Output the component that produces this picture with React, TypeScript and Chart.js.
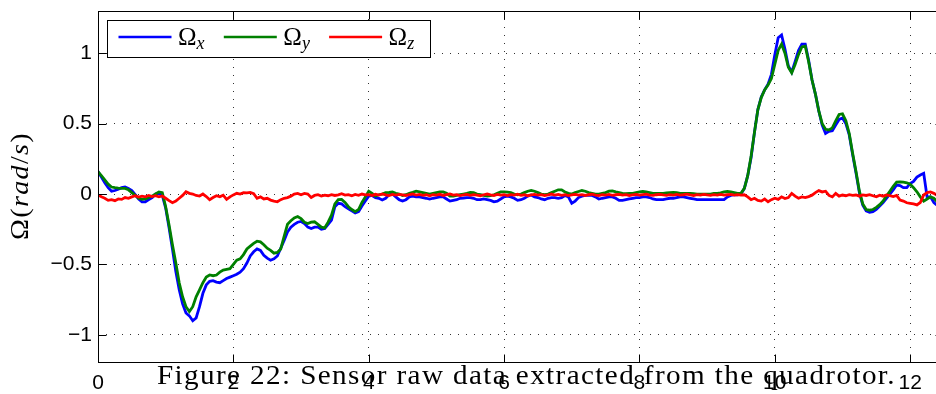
import { useEffect, useRef } from 'react';
import { Chart, registerables } from 'chart.js';

Chart.register(...registerables);

// Gyro samples, one every 50 ms (rad/s)
const SAMPLE_STEP = 0.05;

const OMEGA_X = [
  0.16, 0.12, 0.08, 0.045, 0.02, 0.025, 0.035, 0.045, 0.05, 0.04,
  0.025, -0.005, -0.035, -0.055, -0.055, -0.04, -0.025, 0.0, 0.005, -0.01,
  -0.1, -0.24, -0.39, -0.55, -0.68, -0.78, -0.845, -0.865, -0.9, -0.88,
  -0.8, -0.705, -0.645, -0.62, -0.615, -0.625, -0.63, -0.615, -0.6, -0.59,
  -0.58, -0.57, -0.555, -0.53, -0.49, -0.44, -0.41, -0.39, -0.4, -0.435,
  -0.455, -0.47, -0.46, -0.44, -0.385, -0.33, -0.27, -0.235, -0.215, -0.2,
  -0.195, -0.21, -0.235, -0.245, -0.235, -0.235, -0.25, -0.245, -0.215, -0.185,
  -0.09, -0.066, -0.07, -0.09, -0.105, -0.12, -0.135, -0.125, -0.085, -0.05,
  -0.015, -0.01, -0.025, -0.03, -0.042, -0.03, -0.005, 0.0, -0.02, -0.04,
  -0.05, -0.04, -0.02, -0.015, -0.02, -0.02, -0.025, -0.03, -0.036, -0.03,
  -0.025, -0.02, -0.02, -0.035, -0.05, -0.045, -0.04, -0.03, -0.028, -0.025,
  -0.025, -0.03, -0.04, -0.04, -0.035, -0.04, -0.045, -0.055, -0.05, -0.035,
  -0.02, -0.015, -0.02, -0.03, -0.045, -0.04, -0.03, -0.015, -0.007, -0.02,
  -0.025, -0.035, -0.04, -0.03, -0.025, -0.025, -0.03, -0.025, -0.01, -0.02,
  -0.065, -0.05, -0.025, -0.015, -0.01, -0.01, -0.01, -0.02, -0.036, -0.03,
  -0.025, -0.02, -0.02, -0.03, -0.045, -0.045, -0.04, -0.035, -0.03, -0.025,
  -0.025, -0.02, -0.02, -0.025, -0.035, -0.04, -0.04, -0.04, -0.035, -0.03,
  -0.03, -0.025, -0.02, -0.02, -0.025, -0.03, -0.035, -0.04, -0.04, -0.04,
  -0.04, -0.04, -0.04, -0.04, -0.04, -0.04, -0.02, -0.01, -0.005, -0.005,
  0.0, 0.04, 0.13, 0.26, 0.44, 0.6, 0.69, 0.74, 0.78, 0.85,
  0.99, 1.11, 1.13, 1.03, 0.91, 0.865, 0.94, 1.02, 1.065, 1.065,
  0.95, 0.81, 0.71, 0.59, 0.49, 0.43, 0.445, 0.45, 0.49, 0.53,
  0.54, 0.5, 0.42, 0.28, 0.15, 0.01, -0.08, -0.12, -0.13, -0.125,
  -0.11, -0.085, -0.06, -0.03, 0.0, 0.03, 0.064, 0.06, 0.045, 0.045,
  0.075, 0.09, 0.12, 0.135, 0.147, -0.02, -0.02, -0.06, -0.08, -0.07,
  -0.07,
];

const OMEGA_Y = [
  0.16, 0.13, 0.1, 0.07, 0.05, 0.045, 0.042, 0.04, 0.04, 0.03,
  0.01, -0.01, -0.03, -0.038, -0.035, -0.025, -0.015, 0.0, 0.015, 0.01,
  -0.09, -0.22, -0.36, -0.49, -0.63, -0.73, -0.8, -0.835, -0.8, -0.73,
  -0.68, -0.63, -0.59, -0.575, -0.58, -0.575, -0.555, -0.54, -0.535, -0.53,
  -0.5, -0.47, -0.46, -0.43, -0.39, -0.37, -0.35, -0.335, -0.34, -0.36,
  -0.385, -0.4, -0.42, -0.415, -0.39, -0.3, -0.215, -0.19, -0.17, -0.16,
  -0.175, -0.2, -0.21, -0.2, -0.197, -0.215, -0.235, -0.24, -0.2, -0.15,
  -0.07, -0.04, -0.038, -0.06, -0.09, -0.11, -0.125, -0.11, -0.06, -0.02,
  0.02, 0.005, -0.015, -0.005, 0.0, 0.01, 0.012, 0.015, 0.005, 0.0,
  -0.01, -0.005, 0.005, 0.012, 0.02, 0.015, 0.01, 0.005, 0.0, 0.005,
  0.01, 0.015, 0.015, 0.005, -0.015, -0.015, -0.01, -0.005, 0.0, 0.005,
  0.012, 0.01, 0.0, -0.005, -0.01, -0.015, -0.012, -0.005, 0.005, 0.015,
  0.016, 0.014, 0.01, 0.0, -0.005, 0.0, 0.01, 0.02, 0.026, 0.02,
  0.01, 0.0, -0.005, 0.0, 0.01, 0.02, 0.03, 0.03, 0.015, 0.005,
  0.0, 0.01, 0.018, 0.025, 0.02, 0.01, 0.005, 0.0, 0.0, 0.005,
  0.01, 0.02, 0.022, 0.015, 0.01, 0.005, 0.003, 0.005, 0.005, 0.01,
  0.015, 0.018, 0.015, 0.01, 0.005, 0.005, 0.005, 0.005, 0.008, 0.01,
  0.012, 0.01, 0.005, 0.005, 0.005, 0.005, 0.003, 0.0, 0.0, 0.0,
  0.0, 0.0, 0.005, 0.005, 0.008, 0.015, 0.018, 0.015, 0.01, 0.005,
  0.005, 0.04, 0.13, 0.27, 0.44, 0.6, 0.685, 0.74, 0.775, 0.82,
  0.92, 1.02, 1.065, 1.0, 0.9, 0.86, 0.92, 0.99, 1.045, 1.05,
  0.94, 0.81, 0.71, 0.59, 0.5, 0.46, 0.455, 0.47, 0.52, 0.565,
  0.57, 0.52, 0.43, 0.29, 0.16, 0.02, -0.07, -0.11, -0.115, -0.11,
  -0.095, -0.075, -0.05, -0.015, 0.02, 0.055, 0.085, 0.087, 0.085, 0.08,
  0.07, 0.045, 0.016, -0.02, -0.05, -0.035, -0.02, -0.03, -0.055, -0.08,
  -0.08,
];

const OMEGA_Z = [
  -0.007, -0.02, -0.03, -0.045, -0.04, -0.047, -0.035, -0.038, -0.025, -0.03,
  -0.02, -0.012, -0.022, -0.015, -0.02, -0.01, -0.018, -0.012, -0.02, -0.014,
  -0.03, -0.047, -0.062, -0.05, -0.03, -0.01, 0.016, 0.005, 0.0, -0.01,
  -0.014, 0.0, -0.018, -0.04, -0.025, -0.012, -0.02, -0.008, -0.038, -0.02,
  -0.006, 0.005, 0.0, 0.01, 0.008, 0.012, 0.002, -0.03, -0.02, -0.035,
  -0.03, -0.043, -0.05, -0.055, -0.04, -0.03, -0.025, -0.015, 0.0, 0.005,
  -0.005, 0.004, 0.0, -0.024, -0.01, -0.005, -0.014, -0.008, -0.012, -0.004,
  -0.01, -0.006, 0.002, -0.008, -0.004, -0.012, -0.003, -0.009, 0.0, -0.006,
  -0.004, -0.01, -0.002, -0.007, 0.001, -0.006, -0.011, -0.003, -0.008, -0.002,
  -0.006, -0.01, -0.004, 0.0, -0.008, -0.003, -0.009, -0.005, -0.012, -0.004,
  -0.007, -0.002, -0.01, -0.005, 0.0, -0.008, -0.004, -0.011, -0.006, -0.002,
  -0.009, -0.004, -0.007, -0.012, -0.005, 0.0, -0.006, -0.01, -0.003, -0.008,
  -0.005, -0.011, -0.004, -0.007, -0.001, -0.009, -0.005, -0.012, -0.006, -0.003,
  -0.008, -0.004, -0.01, -0.006, 0.0, -0.007, -0.003, -0.009, -0.005, -0.011,
  -0.006, -0.002, -0.008, -0.004, -0.01, -0.005, -0.001, -0.007, -0.011, -0.004,
  -0.007, -0.003, -0.009, -0.005, -0.002, -0.008, -0.004, -0.01, -0.006, -0.003,
  -0.008, -0.004, -0.001, -0.007, -0.01, -0.005, -0.002, -0.006, -0.009, -0.004,
  -0.007, -0.003, -0.008, -0.005, -0.001, -0.006, -0.01, -0.004, -0.007, -0.002,
  -0.006, -0.009, -0.004, -0.007, -0.002, -0.008, -0.005, -0.003, -0.007, -0.004,
  -0.008, -0.005, -0.02, -0.04, -0.03, -0.045, -0.05, -0.035, -0.055, -0.04,
  -0.03, -0.038, -0.02, -0.032, -0.025, 0.004, -0.015, -0.03, -0.02, -0.025,
  -0.018, -0.008, 0.01, 0.024, 0.015, 0.02, -0.01, -0.02, 0.005, -0.015,
  -0.007, -0.012, -0.005, -0.01, -0.007, -0.015, -0.006, -0.01, -0.004, -0.012,
  -0.02, -0.008, -0.015, -0.006, -0.012, -0.018, -0.01, -0.043, -0.05, -0.062,
  -0.066, -0.07, -0.077, -0.06, -0.007, 0.01, 0.015, 0.005, -0.01, -0.02,
  -0.015,
];

const X_RANGE = [0, 12.5];
const Y_RANGE = [-1.2, 1.3];
const X_TICKS = [0, 2, 4, 6, 8, 10, 12];
const X_TICK_LABELS = ['0', '2', '4', '6', '8', '10', '12'];
const Y_TICKS = [-1, -0.5, 0, 0.5, 1];
const Y_TICK_LABELS = ['\u22121', '\u22120.5', '0', '0.5', '1'];

const SERIES_SUBSCRIPTS = ['x', 'y', 'z'];
const SERIES_COLORS = ['#0000ff', '#008000', '#ff0000'];
const SERIES_VALUES = [OMEGA_X, OMEGA_Y, OMEGA_Z];

const CAPTION = 'Figure 22: Sensor raw data extracted from the quadrotor.';

const SERIF = '"Liberation Serif", serif';
const SANS = '"Liberation Sans", Arial, Helvetica, sans-serif';

const CANVAS_W = 944;
const CANVAS_H = 394;

type Run = { text: string; italic?: boolean; size: number; dy?: number };

function runFont(r: Run) {
  return `${r.italic ? 'italic ' : ''}${r.size}px ${SERIF}`;
}

function setSpacing(ctx: any, px: number) {
  if ('letterSpacing' in ctx) ctx.letterSpacing = `${px}px`;
}

function runsWidth(ctx: CanvasRenderingContext2D, runs: Run[]) {
  let w = 0;
  for (const r of runs) {
    ctx.font = runFont(r);
    w += ctx.measureText(r.text).width;
  }
  return w;
}

// Draws mixed upright/italic text starting at (0,0) of the current transform.
// When a length is given, the text is widened to it: partly by a mild
// horizontal stretch, the rest by letter spacing, so strokes stay thin.
function drawRuns(ctx: CanvasRenderingContext2D, runs: Run[], length?: number) {
  setSpacing(ctx, 0);
  const natural = runsWidth(ctx, runs);
  const chars = runs.reduce((n, r) => n + r.text.length, 0);
  let sx = 1;
  let ls = 0;
  if (length) {
    sx = Math.min(1.08, length / natural);
    const hasSpacing = 'letterSpacing' in (ctx as any);
    if (hasSpacing) {
      ls = (length / sx - natural) / chars;
    } else {
      sx = length / natural;
    }
  }
  ctx.save();
  ctx.scale(sx, 1);
  let cx = 0;
  for (const r of runs) {
    ctx.font = runFont(r);
    setSpacing(ctx, 0);
    const w = ctx.measureText(r.text).width;
    setSpacing(ctx, ls);
    ctx.fillText(r.text, cx, r.dy || 0);
    cx += w + ls * r.text.length;
  }
  ctx.restore();
  setSpacing(ctx, 0);
}

const decorations = {
  id: 'figureDecorations',
  afterDraw(chart: any) {
    const { ctx, chartArea: a, scales } = chart;
    ctx.save();

    // axes box
    ctx.strokeStyle = '#000';
    ctx.lineWidth = 1;
    const l = Math.round(a.left) + 0.5;
    const r = Math.round(a.right) - 0.5;
    const t = Math.round(a.top) + 0.5;
    const b = Math.round(a.bottom) - 0.5;
    ctx.strokeRect(l, t, r - l, b - t);

    // inward tick marks on all four sides
    const TL = 8;
    ctx.beginPath();
    for (const v of X_TICKS) {
      const px = Math.round(scales.x.getPixelForValue(v)) + 0.5;
      ctx.moveTo(px, b); ctx.lineTo(px, b - TL);
      ctx.moveTo(px, t); ctx.lineTo(px, t + TL);
    }
    for (const v of Y_TICKS) {
      const py = Math.round(scales.y.getPixelForValue(v)) + 0.5;
      ctx.moveTo(l, py); ctx.lineTo(l + TL, py);
      ctx.moveTo(r, py); ctx.lineTo(r - TL, py);
    }
    ctx.stroke();

    // legend
    const box = { x: 107.5, y: 20.5, w: 323, h: 37 };
    ctx.fillStyle = '#fff';
    ctx.fillRect(box.x, box.y, box.w, box.h);
    ctx.strokeStyle = '#000';
    ctx.lineWidth = 1;
    ctx.strokeRect(box.x, box.y, box.w, box.h);
    ctx.textBaseline = 'alphabetic';
    ctx.textAlign = 'left';
    SERIES_SUBSCRIPTS.forEach((sub, i) => {
      const x0 = 118.5 + i * 105.3;
      ctx.strokeStyle = SERIES_COLORS[i];
      ctx.lineWidth = 2.6;
      ctx.beginPath();
      ctx.moveTo(x0, 37);
      ctx.lineTo(x0 + 53, 37);
      ctx.stroke();
      ctx.fillStyle = '#000';
      ctx.save();
      ctx.translate(x0 + 59.5, 44.5);
      drawRuns(ctx, [
        { text: '\u03A9', size: 25 },
        { text: sub, italic: true, size: 18, dy: 4 },
      ]);
      ctx.restore();
    });

    // y-axis title
    ctx.fillStyle = '#000';
    const title: Run[] = [
      { text: '\u03A9', size: 26 },
      { text: '(', size: 26 },
      { text: 'rad', italic: true, size: 26 },
      { text: '/', size: 26 },
      { text: 's', italic: true, size: 26 },
      { text: ')', size: 26 },
    ];
    const titleLen = 108;
    ctx.save();
    ctx.translate(28, 186 + titleLen / 2);
    ctx.rotate(-Math.PI / 2);
    drawRuns(ctx, title, titleLen);
    ctx.restore();

    // caption
    ctx.save();
    ctx.translate(157, 383.5);
    drawRuns(ctx, [{ text: CAPTION, size: 27 }], 739);
    ctx.restore();

    ctx.restore();
  },
};

function toPoints(values: number[]) {
  return values.map((y, i) => ({ x: Math.round(i * SAMPLE_STEP * 100) / 100, y }));
}

export default function App() {
  const canvasRef = useRef<HTMLCanvasElement | null>(null);

  useEffect(() => {
    const canvas = canvasRef.current;
    if (!canvas) return;
    const gridColor = 'rgba(0,0,0,0.8)';
    const chart = new Chart(canvas, {
      type: 'line',
      data: {
        datasets: SERIES_VALUES.map((vals, i) => ({
          label: '\u03A9' + SERIES_SUBSCRIPTS[i],
          data: toPoints(vals),
          borderColor: SERIES_COLORS[i],
          backgroundColor: SERIES_COLORS[i],
          borderWidth: 2.8,
          pointRadius: 0,
          tension: 0,
          fill: false,
          order: 2 - i,
        })),
      },
      options: {
        responsive: false,
        animation: false,
        events: [],
        layout: { padding: { top: 11, left: 0, right: 0, bottom: 0 } },
        plugins: {
          legend: { display: false },
          tooltip: { enabled: false },
          title: { display: false },
        },
        scales: {
          x: {
            type: 'linear',
            min: X_RANGE[0],
            max: X_RANGE[1],
            afterBuildTicks: (s: any) => {
              s.ticks = X_TICKS.map((v) => ({ value: v }));
            },
            afterFit: (s: any) => {
              s.height = 31;
              s.paddingLeft = 0;
              s.paddingRight = 0;
            },
            grid: { color: gridColor, lineWidth: 1, drawTicks: false },
            border: { display: false, dash: [1, 7] },
            ticks: {
              color: '#000',
              font: { family: SANS, size: 21 },
              padding: 8,
              maxRotation: 0,
              autoSkip: false,
              callback: (_v: any, i: number) => X_TICK_LABELS[i],
            },
          },
          y: {
            type: 'linear',
            min: Y_RANGE[0],
            max: Y_RANGE[1],
            afterBuildTicks: (s: any) => {
              s.ticks = Y_TICKS.map((v) => ({ value: v }));
            },
            afterFit: (s: any) => {
              s.width = 98;
              s.paddingTop = 0;
              s.paddingBottom = 0;
            },
            grid: { color: gridColor, lineWidth: 1, drawTicks: false },
            border: { display: false, dash: [1, 7] },
            ticks: {
              color: '#000',
              font: { family: SANS, size: 21 },
              padding: 6,
              autoSkip: false,
              callback: (_v: any, i: number) => Y_TICK_LABELS[i],
            },
          },
        },
      },
      plugins: [decorations],
    } as any);
    return () => chart.destroy();
  }, []);

  return (
    <div
      style={{
        position: 'fixed',
        left: 0,
        top: 0,
        width: 936,
        height: CANVAS_H,
        overflow: 'hidden',
        background: '#fff',
      }}
    >
      <canvas
        ref={canvasRef}
        width={CANVAS_W}
        height={CANVAS_H}
        style={{ display: 'block', width: CANVAS_W, height: CANVAS_H }}
      />
    </div>
  );
}
